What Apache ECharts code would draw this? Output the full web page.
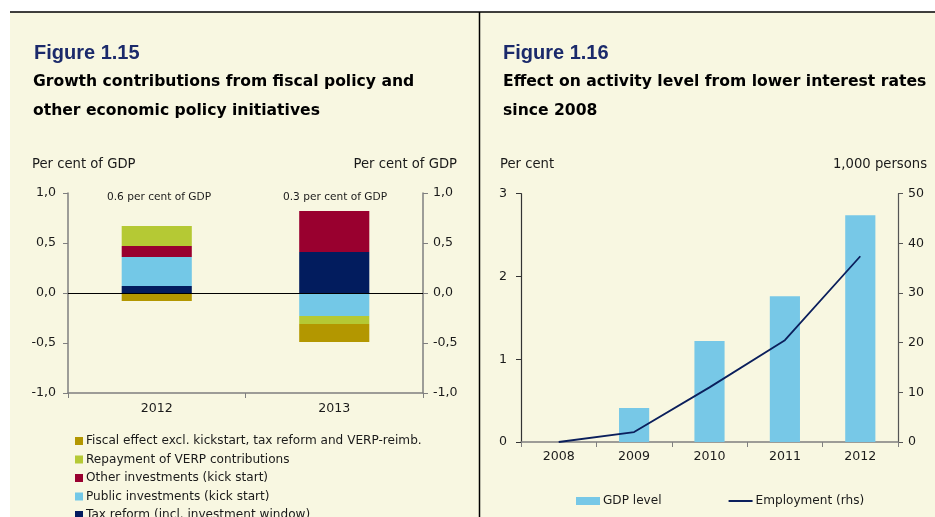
<!DOCTYPE html>
<html>
<head>
<meta charset="utf-8">
<script src="https://cdn.jsdelivr.net/npm/echarts@6/dist/echarts.min.js"></script>
<style>
html,body{margin:0;padding:0;background:#ffffff;overflow:hidden;}
#c{width:935px;height:517px;}
</style>
</head>
<body>
<div id="c"></div>
<script>
// ---------- Figure 1.15 data ----------
var years15 = ['2012', '2013'];
var taxReform = [0.07, 0.41];
var publicInv = [0.29, -0.23];
var otherInv = [0.11, 0.41];
var repayment = [0.20, -0.08];
var fiscalEffect = [-0.08, -0.18];
var totals15 = ['0.6 per cent of GDP', '0.3 per cent of GDP'];
var ticks15 = [-1.0, -0.5, 0.0, 0.5, 1.0];

// ---------- Figure 1.16 data ----------
var years16 = ['2008', '2009', '2010', '2011', '2012'];
var gdpLevel = [0, 0.41, 1.22, 1.76, 2.74];
var employment = [0, 2.0, 11.0, 20.5, 37.4];
var ticks16L = [0, 1, 2, 3];
var ticks16R = [0, 10, 20, 30, 40, 50];

var FONT = "'DejaVu Sans', 'Liberation Sans', Arial, sans-serif";
var FONT_A = "'Liberation Sans', Arial, sans-serif";
var TXT = '#1a1a1a';
var AX = '#7f7f7f';
var LBL = 12.6;
var NAME = 13.2;
var LEG = 12.1;

function commaFmt(v) { return v.toFixed(1).replace('.', ','); }

var chart = echarts.init(document.getElementById('c'), null, {renderer: 'canvas'});

var yAxis15 = function (pos) {
  return {
    type: 'value', gridIndex: 0, position: pos,
    min: ticks15[0], max: ticks15[ticks15.length - 1], interval: 0.5,
    axisLine: {show: true, lineStyle: {color: AX, width: 1.5}},
    axisTick: {show: true, length: 5, lineStyle: {color: AX}},
    splitLine: {show: false},
    axisLabel: {color: TXT, fontSize: LBL, fontFamily: FONT, margin: pos === 'left' ? 12 : 10,
      formatter: function (v) { return commaFmt(v); }}
  };
};

var option = {
  backgroundColor: 'transparent',
  animation: false,
  textStyle: {fontFamily: FONT},
  graphic: [
    {type: 'rect', shape: {x: 10, y: 12, width: 925, height: 505}, style: {fill: '#f8f7e1'}, z: -10},
    {type: 'line', shape: {x1: 10, y1: 12, x2: 935, y2: 12}, style: {stroke: '#000', lineWidth: 1.5}},
    {type: 'line', shape: {x1: 479.5, y1: 12, x2: 479.5, y2: 517}, style: {stroke: '#000', lineWidth: 1.5}},
    {type: 'text', x: 34, y: 53, style: {text: 'Figure 1.15', fill: '#1b2a6b', font: 'bold 20px ' + FONT_A, textVerticalAlign: 'middle'}},
    {type: 'text', x: 33, y: 82, style: {text: 'Growth contributions from fiscal policy and', fill: '#000', font: 'bold 15.6px ' + FONT, textVerticalAlign: 'middle'}},
    {type: 'text', x: 33, y: 111, style: {text: 'other economic policy initiatives', fill: '#000', font: 'bold 15.6px ' + FONT, textVerticalAlign: 'middle'}},
    {type: 'text', x: 503, y: 53, style: {text: 'Figure 1.16', fill: '#1b2a6b', font: 'bold 20px ' + FONT_A, textVerticalAlign: 'middle'}},
    {type: 'text', x: 503, y: 82, style: {text: 'Effect on activity level from lower interest rates', fill: '#000', font: 'bold 15.6px ' + FONT, textVerticalAlign: 'middle'}},
    {type: 'text', x: 503, y: 111, style: {text: 'since 2008', fill: '#000', font: 'bold 15.6px ' + FONT, textVerticalAlign: 'middle'}},
    {type: 'text', x: 32, y: 165, style: {text: 'Per cent of GDP', fill: TXT, font: NAME + 'px ' + FONT, textVerticalAlign: 'middle'}},
    {type: 'text', x: 457, y: 165, style: {text: 'Per cent of GDP', fill: TXT, font: NAME + 'px ' + FONT, textAlign: 'right', textVerticalAlign: 'middle'}},
    {type: 'text', x: 500, y: 165, style: {text: 'Per cent', fill: TXT, font: NAME + 'px ' + FONT, textVerticalAlign: 'middle'}},
    {type: 'text', x: 927, y: 165, style: {text: '1,000 persons', fill: TXT, font: NAME + 'px ' + FONT, textAlign: 'right', textVerticalAlign: 'middle'}},
    {type: 'text', x: 159, y: 197, style: {text: totals15[0], fill: TXT, font: '10.6px ' + FONT, textAlign: 'center', textVerticalAlign: 'middle'}},
    {type: 'text', x: 335, y: 197, style: {text: totals15[1], fill: TXT, font: '10.6px ' + FONT, textAlign: 'center', textVerticalAlign: 'middle'}}
  ],
  grid: [
    {left: 68, top: 193, width: 355, height: 200, containLabel: false},
    {left: 521, top: 193.7, width: 377, height: 248.3, containLabel: false}
  ],
  legend: [
    {
      orient: 'vertical', left: 70, top: 429, height: 120, itemWidth: 8, itemHeight: 8, itemGap: 4.5,
      icon: 'rect',
      textStyle: {color: TXT, fontSize: LEG, fontFamily: FONT, lineHeight: 14, padding: [0, 0, 0, -2]},
      data: ['Fiscal effect excl. kickstart, tax reform and VERP-reimb.', 'Repayment of VERP contributions',
             'Other investments (kick start)', 'Public investments (kick start)', 'Tax reform (incl. investment window)']
    },
    {
      orient: 'horizontal', left: 571, top: 490, itemWidth: 24, itemHeight: 8, itemGap: 67,
      textStyle: {color: TXT, fontSize: LEG, fontFamily: FONT, padding: [0, 0, 0, -2]},
      data: [{name: 'GDP level', icon: 'rect'}, {name: 'Employment (rhs)', icon: 'path://M0,0 L24,0 L24,2 L0,2 Z'}]
    }
  ],
  xAxis: [
    {
      type: 'category', gridIndex: 0, data: years15,
      axisLine: {onZero: false, lineStyle: {color: AX, width: 1.5}},
      axisTick: {show: true, length: 5, lineStyle: {color: AX}},
      axisLabel: {color: TXT, fontSize: LBL, fontFamily: FONT, margin: 9}
    },
    {
      type: 'category', gridIndex: 1, data: years16,
      axisLine: {onZero: false, lineStyle: {color: AX, width: 1.5}},
      axisTick: {show: true, length: 5, lineStyle: {color: AX}},
      axisLabel: {color: TXT, fontSize: LBL, fontFamily: FONT, margin: 8}
    }
  ],
  yAxis: [
    yAxis15('left'),
    yAxis15('right'),
    {
      type: 'value', gridIndex: 1, position: 'left',
      min: ticks16L[0], max: ticks16L[ticks16L.length - 1], interval: 1,
      axisLine: {show: true, lineStyle: {color: '#333', width: 1.2}},
      axisTick: {show: true, length: 5, lineStyle: {color: '#333'}},
      splitLine: {show: false},
      axisLabel: {color: TXT, fontSize: LBL, fontFamily: FONT, margin: 14}
    },
    {
      type: 'value', gridIndex: 1, position: 'right',
      min: ticks16R[0], max: ticks16R[ticks16R.length - 1], interval: 10,
      axisLine: {show: true, lineStyle: {color: '#555', width: 1.2}},
      axisTick: {show: true, length: 5, lineStyle: {color: '#555'}},
      splitLine: {show: false},
      axisLabel: {color: TXT, fontSize: LBL, fontFamily: FONT, margin: 10}
    }
  ],
  series: [
    {name: 'Tax reform (incl. investment window)', type: 'bar', stack: 's15', xAxisIndex: 0, yAxisIndex: 0,
     barWidth: '39.5%', data: taxReform, itemStyle: {color: '#021c5e'},
     markLine: {silent: true, symbol: 'none', label: {show: false}, lineStyle: {color: '#000', width: 1.2, type: 'solid'},
       data: [{yAxis: 0}], z: 10}},
    {name: 'Public investments (kick start)', type: 'bar', stack: 's15', xAxisIndex: 0, yAxisIndex: 0,
     barWidth: '39.5%', data: publicInv, itemStyle: {color: '#73c8e7'}},
    {name: 'Other investments (kick start)', type: 'bar', stack: 's15', xAxisIndex: 0, yAxisIndex: 0,
     barWidth: '39.5%', data: otherInv, itemStyle: {color: '#99002f'}},
    {name: 'Repayment of VERP contributions', type: 'bar', stack: 's15', xAxisIndex: 0, yAxisIndex: 0,
     barWidth: '39.5%', data: repayment, itemStyle: {color: '#b5c934'}},
    {name: 'Fiscal effect excl. kickstart, tax reform and VERP-reimb.', type: 'bar', stack: 's15', xAxisIndex: 0, yAxisIndex: 0,
     barWidth: '39.5%', data: fiscalEffect, itemStyle: {color: '#b39700'}},
    {name: 'GDP level', type: 'bar', xAxisIndex: 1, yAxisIndex: 2, barWidth: '40%',
     data: gdpLevel, itemStyle: {color: '#77c8e7'}},
    {name: 'Employment (rhs)', type: 'line', xAxisIndex: 1, yAxisIndex: 3, symbol: 'none',
     data: employment, lineStyle: {color: '#0b1f5c', width: 1.8}, itemStyle: {color: '#0b1f5c'}}
  ]
};
chart.setOption(option);
</script>
</body>
</html>
